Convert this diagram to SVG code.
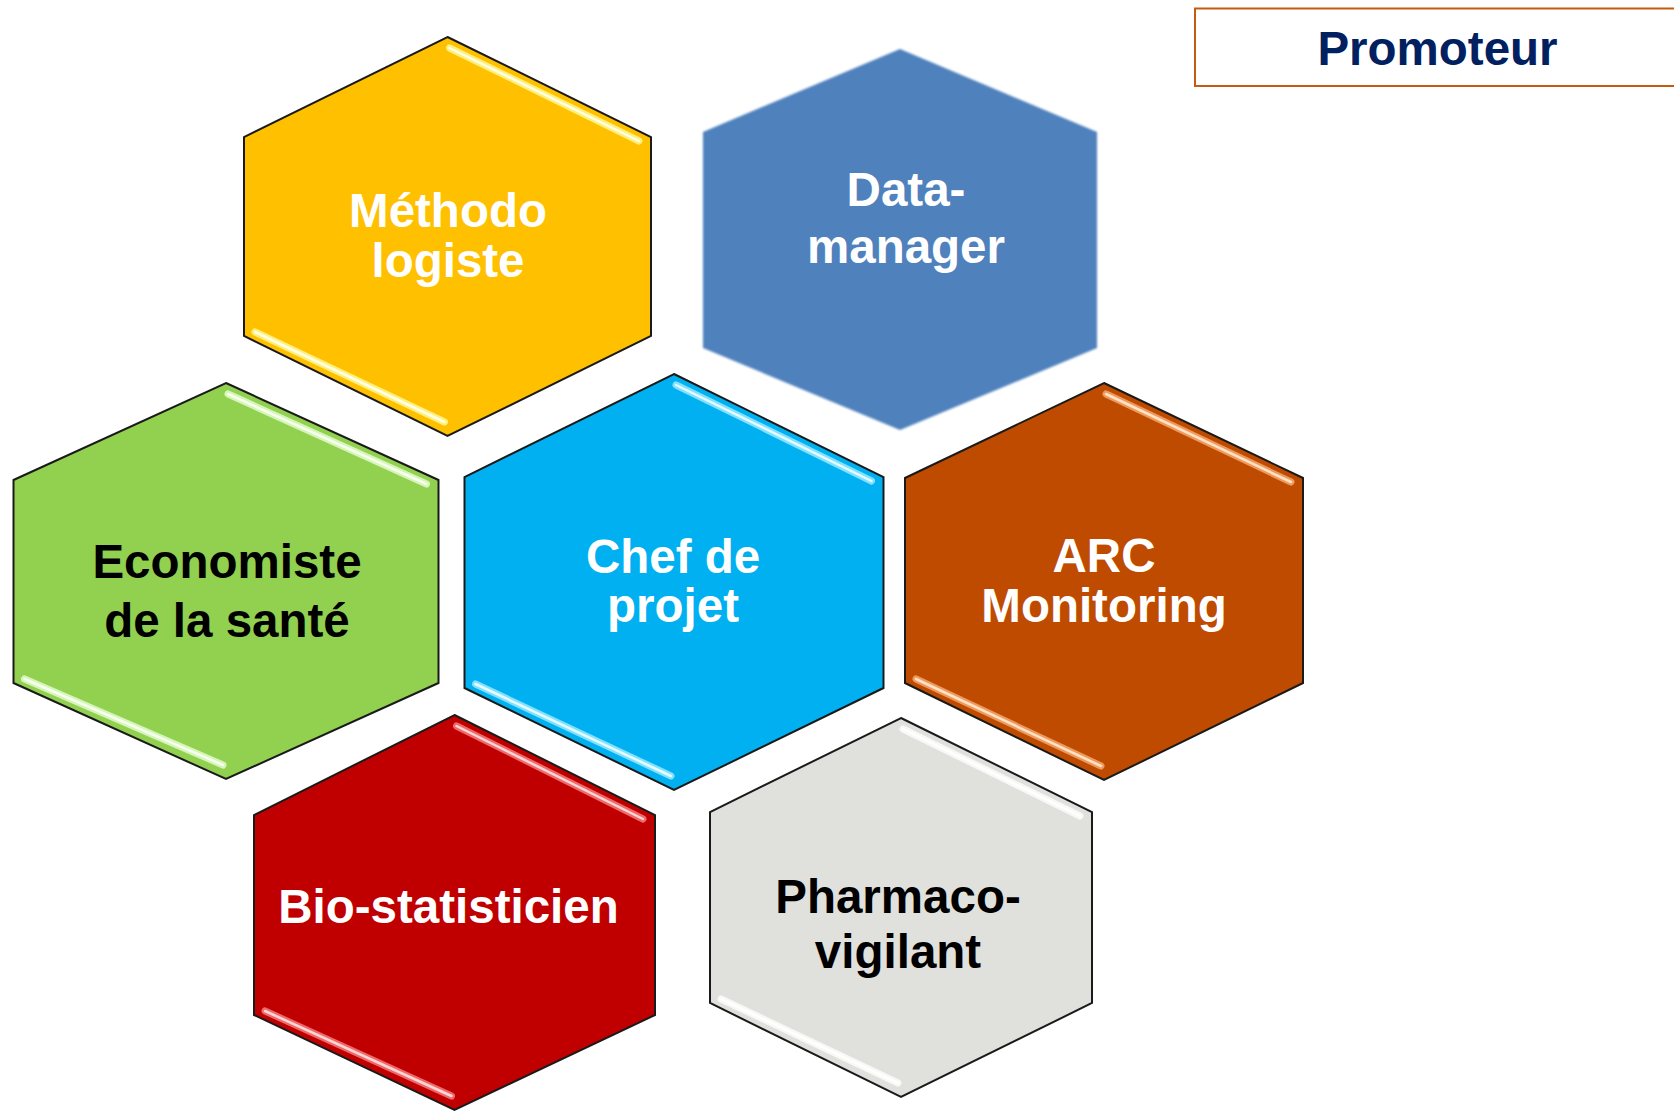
<svg xmlns="http://www.w3.org/2000/svg" width="1674" height="1112" viewBox="0 0 1674 1112">
<style>
.hex{stroke:#1a1a1a;stroke-width:2;stroke-linejoin:miter}
.lbl{font-family:"Liberation Sans",Arial,sans-serif;font-weight:bold;font-size:47.5px;text-anchor:middle}
.w{fill:#ffffff}
.k{fill:#000000}
.hl{fill:none;stroke-linecap:round;stroke-width:7}
.hc{fill:none;stroke-linecap:round;stroke-width:2.5}
</style>
<defs>
<filter id="soft" x="-5%" y="-5%" width="110%" height="110%"><feGaussianBlur stdDeviation="1.2"/></filter>
</defs>
<rect width="1674" height="1112" fill="#ffffff"/>

<g id="promoteur">
<rect x="1195" y="8.5" width="520" height="77.5" fill="#ffffff" stroke="#C55A11" stroke-width="2"/>
<text class="lbl" x="1437.5" y="65" fill="#002060">Promoteur</text>
</g>

<g id="methodologiste">
<polygon class="hex" fill="#FFC000" points="447.5,37 651,137 651,336 447.5,436 244,336 244,137"/>
<polyline class="hl" stroke="#FFF07A" points="449.5,48 639,141"/>
<polyline class="hc" stroke="#FFFFE8" points="449.5,48 639,141"/>
<polyline class="hl" stroke="#FFF07A" points="255,332 444.5,422"/>
<polyline class="hc" stroke="#FFFFE8" points="255,332 444.5,422"/>
<text class="lbl w" x="448" y="227">Méthodo</text>
<text class="lbl w" x="448" y="277">logiste</text>
</g>

<g id="datamanager">
<polygon fill="#4F81BD" filter="url(#soft)" points="900,49 1097,132 1097,348 900,430 703,348 703,132"/>
<text class="lbl w" x="906" y="206">Data-</text>
<text class="lbl w" x="906" y="263">manager</text>
</g>

<g id="economiste">
<polygon class="hex" fill="#92D050" points="226,383 438.5,480 438.5,683 226,779 13.5,683 13.5,480"/>
<polyline class="hl" stroke="#D6F5B8" points="228,394 426.5,484"/>
<polyline class="hc" stroke="#F6FFEE" points="228,394 426.5,484"/>
<polyline class="hl" stroke="#D6F5B8" points="24.5,679 223,765"/>
<polyline class="hc" stroke="#F6FFEE" points="24.5,679 223,765"/>
<text class="lbl k" x="227" y="578">Economiste</text>
<text class="lbl k" x="227" y="637">de la santé</text>
</g>

<g id="chefdeprojet">
<polygon class="hex" fill="#00B0F0" points="674,374 883.5,477 883.5,688 674,790 464.5,688 464.5,477"/>
<polyline class="hl" stroke="#80E2FF" points="676,385 871.5,481"/>
<polyline class="hc" stroke="#E6FAFF" points="676,385 871.5,481"/>
<polyline class="hl" stroke="#80E2FF" points="475.5,684 671,776"/>
<polyline class="hc" stroke="#E6FAFF" points="475.5,684 671,776"/>
<text class="lbl w" x="673" y="573">Chef de</text>
<text class="lbl w" x="673" y="622">projet</text>
</g>

<g id="arcmonitoring">
<polygon class="hex" fill="#BF4B00" points="1104,383 1303,478 1303,683 1104,780 905,683 905,478"/>
<polyline class="hl" stroke="#EE9A5C" points="1106,394 1291,482"/>
<polyline class="hc" stroke="#FFE2C8" points="1106,394 1291,482"/>
<polyline class="hl" stroke="#EE9A5C" points="916,679 1101,766"/>
<polyline class="hc" stroke="#FFE2C8" points="916,679 1101,766"/>
<text class="lbl w" x="1104" y="572">ARC</text>
<text class="lbl w" x="1104" y="622">Monitoring</text>
</g>

<g id="biostatisticien">
<polygon class="hex" fill="#C00000" points="454.5,715 655,815 655,1015 454.5,1110 254,1015 254,815"/>
<polyline class="hl" stroke="#EE6A6A" points="456.5,726 643,819"/>
<polyline class="hc" stroke="#FFD6D6" points="456.5,726 643,819"/>
<polyline class="hl" stroke="#EE6A6A" points="265,1011 451.5,1096"/>
<polyline class="hc" stroke="#FFD6D6" points="265,1011 451.5,1096"/>
<text class="lbl w" x="448.5" y="923">Bio-statisticien</text>
</g>

<g id="pharmacovigilant">
<polygon class="hex" fill="#E0E0DC" points="901,718 1092,812 1092,1003 901,1097 710,1003 710,812"/>
<polyline class="hl" stroke="#F8F8F6" points="903,729 1080,816"/>
<polyline class="hc" stroke="#FFFFFF" points="903,729 1080,816"/>
<polyline class="hl" stroke="#F8F8F6" points="721,999 898,1083"/>
<polyline class="hc" stroke="#FFFFFF" points="721,999 898,1083"/>
<text class="lbl k" x="898" y="913">Pharmaco-</text>
<text class="lbl k" x="898" y="968">vigilant</text>
</g>

<g id="connectors"/>
</svg>
